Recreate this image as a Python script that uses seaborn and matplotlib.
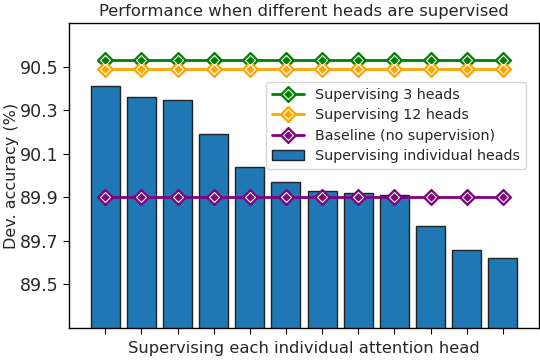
import matplotlib
matplotlib.use("Agg")
import matplotlib.pyplot as plt
import seaborn as sns
import pandas as pd

# values
heads = list(range(1, 13))
individual_acc = [90.41, 90.36, 90.35, 90.19, 90.04, 89.97,
                  89.93, 89.92, 89.91, 89.77, 89.66, 89.62]
sup3_acc = 90.53
sup12_acc = 90.49
baseline_acc = 89.90
yticks = [89.5, 89.7, 89.9, 90.1, 90.3, 90.5]

sns.set_style("ticks")
plt.rcParams['font.family'] = ['DejaVu Sans']

df = pd.DataFrame({"head": heads, "acc": individual_acc})

fig = plt.figure(figsize=(5.4, 3.6), dpi=100)
ax = fig.add_axes([0.128, 0.089, 0.870, 0.846])

sns.barplot(x="head", y="acc", data=df, native_scale=True, width=0.8,
            color="#1f77b4", saturation=1, edgecolor="#222222", linewidth=1,
            ax=ax, zorder=1)
bars = ax.patches[0]


def flat_line(value, color):
    ys = [value] * len(heads)
    outer, = ax.plot(heads, ys, color=color, lw=2, marker="D", ms=8.5,
                     mfc=color, mec=color, zorder=3)
    inner, = ax.plot(heads, ys, ls="none", marker="D", ms=5.5,
                     mfc=color, mec="white", mew=0.8, zorder=4)
    return (outer, inner)


h3 = flat_line(sup3_acc, "green")
h12 = flat_line(sup12_acc, "orange")
hb = flat_line(baseline_acc, "purple")

ax.set_ylim(89.3, 90.7)
ax.set_xlim(0, 13)
ax.set_yticks(yticks)
ax.set_yticklabels([f"{v:.1f}" for v in yticks], fontsize=12.5)
ax.set_xticks(heads)
ax.set_xticklabels([])
ax.tick_params(direction="out", length=4, color="black")
for s in ax.spines.values():
    s.set_color("black")
    s.set_linewidth(1)

ax.set_ylabel("Dev. accuracy (%)", fontsize=11.5)
ax.yaxis.set_label_coords(-0.106, 0.5)
ax.set_xlabel("Supervising each individual attention head", fontsize=11.8, labelpad=2)
ax.set_title("Performance when different heads are supervised", fontsize=11.8, pad=5)

ax.legend([h3, h12, hb, bars],
          ["Supervising 3 heads", "Supervising 12 heads",
           "Baseline (no supervision)", "Supervising individual heads"],
          loc="upper right", bbox_to_anchor=(0.972, 0.807), borderaxespad=0,
          fontsize=10.3, framealpha=0.8, handlelength=2.2, borderpad=0.4,
          labelspacing=0.45)

fig.savefig("out.png", dpi=100)
